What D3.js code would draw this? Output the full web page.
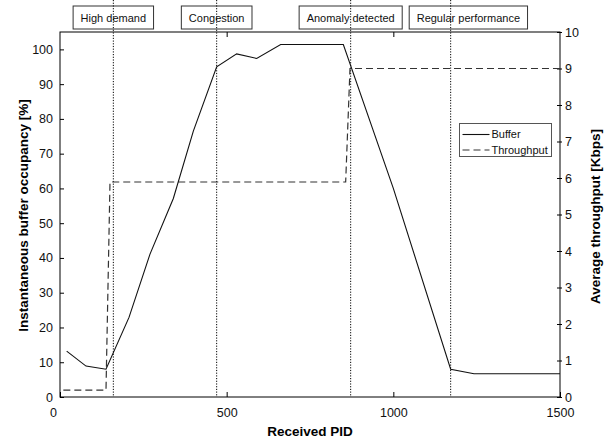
<!DOCTYPE html>
<html>
<head>
<meta charset="utf-8">
<script src="https://cdn.jsdelivr.net/npm/d3@7"></script>
<style>
    body { margin: 0; background: #fff; }
    svg { font-family: "Liberation Sans", Arial, sans-serif; }
    .axis path, .axis line { stroke: #000; }
    .axis text { font-size: 12.5px; fill: #111; }
</style>
</head>
<body>
<div id="chart"></div>
<script>
// buffer occupancy (left axis, %)
const bufferPid = [20, 78, 138, 207, 270, 340, 400, 470, 530, 590, 662, 850, 1000, 1172, 1242, 1500];
const bufferValues = [13.2, 8.9, 8.0, 22.9, 41.1, 57.1, 76.5, 95.0, 98.7, 97.4, 101.4, 101.4, 60.0, 8.0, 6.7, 6.7];

// average throughput (right axis, Kbps)
const throughputPid = [10, 138, 150, 857, 870, 1500];
const throughputValues = [0.19, 0.19, 5.89, 5.89, 9.0, 9.0];

// events marked with dotted lines
const eventPid = [160, 470, 872, 1172];
const eventLabels = ["High demand", "Congestion", "Anomaly detected", "Regular performance"];

const xTicks = [0, 500, 1000, 1500];
const leftTicks = [0, 10, 20, 30, 40, 50, 60, 70, 80, 90, 100];
const rightTicks = [0, 1, 2, 3, 4, 5, 6, 7, 8, 9, 10];
const seriesNames = ["Buffer", "Throughput"];

const W = 616, H = 442;
const margin = {top: 32, right: 56, bottom: 45, left: 60};
const width = W - margin.left - margin.right;
const height = H - margin.top - margin.bottom;

let svg = d3.select("#chart").append("svg")
    .attr("width", W)
    .attr("height", H);

let x = d3.scaleLinear().domain([0, 1500]).range([margin.left, margin.left + width]);
let yL = d3.scaleLinear().domain([0, 105]).range([margin.top + height, margin.top]);
let yR = d3.scaleLinear().domain([0, 10]).range([margin.top + height, margin.top]);

// frame of the plot
svg.append("rect")
    .attr("x", margin.left)
    .attr("y", margin.top)
    .attr("width", width)
    .attr("height", height)
    .attr("fill", "none")
    .attr("stroke", "#000")
    .attr("stroke-width", 1);

// bottom axis, ticks pointing inward
let xAxis = svg.append("g")
    .attr("class", "axis")
    .attr("transform", "translate(0," + (margin.top + height) + ")")
    .call(d3.axisBottom(x).tickValues(xTicks).tickFormat(d3.format("d"))
        .tickSizeInner(-5).tickSizeOuter(0).tickPadding(11));
xAxis.select(".domain").remove();
xAxis.selectAll(".tick text").filter(d => d === 0).attr("dx", -7);

// top axis, no labels
let topAxis = svg.append("g")
    .attr("class", "axis")
    .attr("transform", "translate(0," + margin.top + ")")
    .call(d3.axisTop(x).tickValues([500, 1000]).tickSizeInner(-5).tickSizeOuter(0).tickFormat(""));
topAxis.select(".domain").remove();

// left axis
let leftAxis = svg.append("g")
    .attr("class", "axis")
    .attr("transform", "translate(" + margin.left + ",0)")
    .call(d3.axisLeft(yL).tickValues(leftTicks).tickSizeInner(-4).tickSizeOuter(0).tickPadding(7));
leftAxis.select(".domain").remove();

// right axis, small ticks across the line
let rightAxis = svg.append("g")
    .attr("class", "axis")
    .attr("transform", "translate(" + (margin.left + width) + ",0)")
    .call(d3.axisRight(yR).tickValues(rightTicks).tickSize(2).tickSizeOuter(0).tickPadding(3));
rightAxis.select(".domain").remove();
rightAxis.selectAll(".tick line").attr("x1", -3);

// axis titles
svg.append("text")
    .attr("x", margin.left + width / 2)
    .attr("y", 436)
    .attr("text-anchor", "middle")
    .attr("font-size", "13.5px")
    .attr("font-weight", "bold")
    .text("Received PID");

svg.append("text")
    .attr("transform", "translate(28," + (margin.top + height / 2 + 1) + ") rotate(-90)")
    .attr("text-anchor", "middle")
    .attr("font-size", "13.5px")
    .attr("font-weight", "bold")
    .text("Instantaneous buffer occupancy [%]");

svg.append("text")
    .attr("transform", "translate(600," + (margin.top + height / 2 + 2) + ") rotate(-90)")
    .attr("text-anchor", "middle")
    .attr("font-size", "13.5px")
    .attr("font-weight", "bold")
    .text("Average throughput [Kbps]");

// event boxes at the top, shifted right when they would overlap
let events = eventPid.map((p, i) => ({pid: p, label: eventLabels[i]}));
let boxG = svg.append("g");
let prevRight = -Infinity;
events.forEach(ev => {
    let g = boxG.append("g");
    let rect = g.append("rect");
    let t = g.append("text")
        .attr("font-size", "11px")
        .attr("text-anchor", "middle")
        .attr("fill", "#111")
        .text(ev.label);
    let w = t.node().getComputedTextLength() + 15;
    let cx = x(ev.pid);
    if (cx - w / 2 < prevRight + 7) cx = prevRight + 7 + w / 2;
    prevRight = cx + w / 2;
    rect.attr("x", cx - w / 2)
        .attr("y", 6)
        .attr("width", w)
        .attr("height", 23)
        .attr("fill", "#fff")
        .attr("stroke", "#333")
        .attr("stroke-width", 1);
    t.attr("x", cx).attr("y", 21.5);
});

// dotted event lines
svg.append("g").selectAll("line")
    .data(eventPid)
    .enter().append("line")
    .attr("x1", d => x(d))
    .attr("x2", d => x(d))
    .attr("y1", 0)
    .attr("y2", margin.top + height)
    .attr("stroke", "#000")
    .attr("stroke-width", 1)
    .attr("stroke-dasharray", "1.2,1.5");

// series lines
let bufferLine = d3.line()
    .x((d, i) => x(bufferPid[i]))
    .y(d => yL(d));
let throughputLine = d3.line()
    .x((d, i) => x(throughputPid[i]))
    .y(d => yR(d));

svg.append("path")
    .datum(throughputValues)
    .attr("d", throughputLine)
    .attr("fill", "none")
    .attr("stroke", "#333")
    .attr("stroke-width", 1.2)
    .attr("stroke-dasharray", "7,4");

svg.append("path")
    .datum(bufferValues)
    .attr("d", bufferLine)
    .attr("fill", "none")
    .attr("stroke", "#111")
    .attr("stroke-width", 1.1);

// legend
let legend = svg.append("g").attr("transform", "translate(459.5,123.5)");
legend.append("rect")
    .attr("width", 92)
    .attr("height", 33)
    .attr("fill", "#fff")
    .attr("stroke", "#555")
    .attr("stroke-width", 1);
let legendRows = legend.selectAll("g.row")
    .data(seriesNames)
    .enter().append("g")
    .attr("class", "row")
    .attr("transform", (d, i) => "translate(0," + (11 + i * 15.5) + ")");
legendRows.append("line")
    .attr("x1", 3)
    .attr("x2", 30)
    .attr("stroke", (d, i) => i === 0 ? "#111" : "#333")
    .attr("stroke-width", (d, i) => i === 0 ? 1.1 : 1.2)
    .attr("stroke-dasharray", (d, i) => i === 0 ? null : "7,4");
legendRows.append("text")
    .attr("x", 32)
    .attr("dy", "0.35em")
    .attr("font-size", "11px")
    .attr("fill", "#111")
    .text(d => d);
</script>
</body>
</html>
